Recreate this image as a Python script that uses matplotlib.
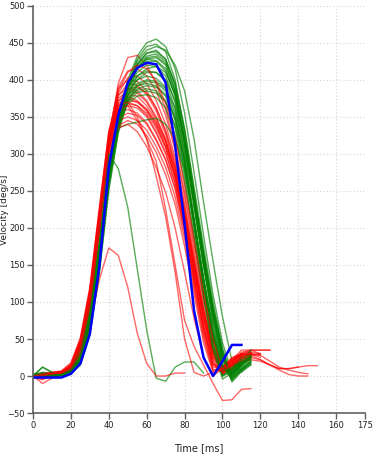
import numpy as np
import matplotlib
matplotlib.use("Agg")
import matplotlib.pyplot as plt

plt.rcParams['font.family'] = ['Liberation Sans Narrow', 'DejaVu Sans']

# muestreo cada 5 ms
step_ms = 5

# perfiles de velocidad, grupo verde
g01 = [0, 3, 2, 3, 7, 25, 72, 160, 272, 350, 400, 432, 450, 455, 445, 415, 355, 275, 190, 110, 45, 5, 15, 24]
g02 = [0, 1, 0, 2, 5, 22, 66, 152, 265, 343, 395, 428, 445, 448, 438, 400, 330, 245, 165, 90, 30, -2, 10, 18]
g03 = [-2, 0, 1, 1, 4, 18, 60, 145, 258, 338, 390, 420, 436, 440, 428, 390, 320, 240, 160, 85, 25, -5, 8, 20]
g04 = [0, 2, 1, 2, 6, 24, 70, 158, 268, 344, 393, 425, 440, 445, 440, 420, 385, 320, 235, 155, 80, 20, 5, 15]
g05 = [1, 4, 3, 4, 9, 30, 80, 172, 282, 352, 395, 420, 432, 435, 425, 395, 335, 255, 175, 100, 35, 0, 12, 25]
g06 = [0, -2, 1, 2, 5, 22, 68, 160, 272, 345, 390, 415, 428, 430, 420, 385, 315, 230, 150, 75, 18, 3, 15, 28]
g07 = [0, 12, 5, 3, 10, 35, 88, 180, 290, 358, 395, 415, 425, 425, 412, 378, 310, 230, 150, 80, 22, 2, 14]
g08 = [1, 2, 2, 3, 7, 28, 76, 168, 278, 345, 388, 410, 420, 418, 405, 370, 300, 215, 135, 65, 15, 5, 18, 30]
g09 = [-1, 0, -1, 1, 3, 15, 55, 138, 250, 330, 380, 405, 415, 418, 410, 380, 320, 245, 165, 95, 38, -3, 10, 22]
g10 = [0, 3, 2, 3, 8, 30, 82, 175, 285, 350, 388, 405, 412, 410, 398, 362, 295, 210, 130, 58, 8, 8, 20]
g11 = [0, 1, 0, 1, 4, 20, 65, 155, 266, 340, 380, 400, 410, 410, 400, 372, 315, 240, 160, 88, 30, 0, 16, 30]
g12 = [2, 5, 4, 5, 10, 34, 88, 180, 288, 352, 385, 400, 405, 402, 390, 355, 290, 205, 125, 52, 5, 10, 22, 32]
g13 = [0, 2, 1, 2, 6, 25, 72, 163, 272, 340, 378, 395, 400, 398, 388, 362, 305, 230, 150, 80, 25, -8, 6, 18]
g14 = [0, 0, -1, 0, 3, 16, 58, 142, 255, 328, 372, 392, 398, 396, 385, 350, 288, 205, 120, 48, 2, 8, 20]
g15 = [1, 3, 2, 3, 8, 28, 78, 170, 278, 342, 378, 392, 395, 392, 380, 345, 280, 200, 118, 45, 0, 6, 18, 26]
g16 = [-3, -1, 0, 1, 4, 20, 65, 155, 265, 335, 372, 388, 392, 390, 378, 348, 290, 210, 130, 60, 12, 12, 26]
g17 = [0, 2, 2, 3, 9, 32, 85, 178, 285, 345, 375, 386, 388, 385, 372, 335, 270, 190, 110, 40, 0, 8, 20, 35]
g18 = [0, 1, 0, 2, 5, 22, 68, 160, 270, 335, 370, 383, 385, 382, 370, 338, 282, 205, 125, 55, 8, 10, 24]
g19 = [1, 2, 1, 2, 7, 26, 75, 166, 274, 338, 368, 378, 380, 376, 362, 325, 262, 185, 105, 35, -4, 4, 16, 28]
g20 = [0, 2, 1, 3, 7, 27, 76, 170, 278, 335, 340, 343, 346, 348, 340, 320, 278, 210, 130, 60, 10, 4, 16, 24]
g21 = [0, 12, 5, 3, 10, 40, 100, 205, 300, 280, 228, 145, 62, -3, -7, 12, 19, 19, 4]
g22 = [0, 2, 2, 2, 6, 24, 70, 162, 272, 346, 394, 422, 436, 438, 428, 395, 330, 250, 168, 92, 32, -4, 9, 21]
g23 = [1, 3, 1, 2, 5, 21, 64, 150, 262, 338, 385, 415, 430, 432, 422, 385, 320, 240, 160, 85, 28, 0, 14, 26]
g24 = [0, 0, 1, 2, 7, 27, 74, 165, 276, 348, 392, 418, 428, 426, 415, 380, 315, 235, 150, 72, 15, -6, 8, 16]

# perfiles de velocidad, grupo rojo
r01 = [0, -3, 2, 4, 12, 42, 105, 210, 320, 395, 430, 433, 420, 395, 360, 310, 248, 178, 108, 48, 10, 15, 25, 30, 28]
r02 = [0, 2, 3, 5, 14, 45, 110, 215, 322, 390, 412, 415, 405, 385, 352, 305, 242, 170, 100, 40, 5, 12, 22, 28, 30]
r03 = [-2, -5, 0, 3, 10, 38, 98, 202, 312, 382, 403, 405, 395, 372, 340, 295, 232, 162, 92, 35, 2, 10, 20, 26]
r04 = [0, 1, 4, 6, 15, 48, 115, 222, 328, 388, 400, 398, 385, 362, 330, 285, 222, 150, 82, 28, 6, 16, 30, 35, 35, 35]
r05 = [0, -2, 2, 4, 11, 40, 100, 205, 315, 378, 395, 393, 380, 358, 326, 282, 220, 150, 85, 30, 8, 18, 28, 32]
r06 = [0, -10, -3, 2, 8, 32, 90, 192, 302, 370, 388, 390, 382, 362, 332, 290, 228, 158, 90, 35, 5, 8, 18, 22, 20, 15, 10, 10, 12, 14, 14]
r07 = [1, 2, 4, 6, 16, 50, 118, 225, 330, 380, 388, 385, 372, 350, 318, 272, 208, 138, 70, 18, 6, 18, 32, 35, 30]
r08 = [0, 0, 3, 5, 12, 42, 105, 210, 318, 375, 385, 382, 370, 348, 320, 280, 220, 152, 85, 32, 4, 12, 25, 30, 28, 20, 12, 8, 5, 3]
r09 = [0, -4, 0, 3, 10, 36, 96, 198, 306, 365, 380, 378, 365, 345, 316, 275, 215, 145, 78, 25, 5, 15, 28, 34]
r10 = [2, 4, 5, 7, 18, 52, 120, 228, 330, 372, 378, 372, 360, 340, 310, 268, 205, 135, 65, 15, 10, 22, 35, 35, 35, 35]
r11 = [0, 1, 3, 5, 13, 44, 108, 212, 318, 368, 375, 370, 358, 338, 310, 270, 212, 145, 78, 25, 12, 25, 30]
r12 = [0, -2, 1, 3, 9, 34, 92, 195, 302, 360, 372, 370, 360, 342, 316, 278, 222, 155, 88, 35, 5, 10, 20, 25, 22, 15, 8, 2, 0, 0]
r13 = [0, 2, 4, 5, 14, 46, 112, 218, 322, 365, 370, 365, 352, 330, 302, 262, 202, 132, 65, 15, 8, 20, 30, 32]
r14 = [0, 0, 2, 4, 11, 40, 102, 205, 312, 360, 368, 365, 355, 335, 308, 268, 210, 142, 75, 22, 3, 14, 26, 30]
r15 = [-1, 1, 3, 5, 12, 42, 105, 210, 315, 358, 365, 362, 350, 328, 300, 260, 198, 128, 60, 12, 10, 22, 30, 28, 22, 15, 10, 10, 12]
r16 = [0, 3, 5, 6, 15, 48, 115, 220, 322, 355, 360, 355, 342, 320, 292, 252, 192, 122, 55, 8, 12, 24, 30]
r17 = [0, -3, 1, 3, 10, 36, 96, 198, 305, 348, 355, 352, 340, 318, 292, 255, 198, 130, 65, 18, 4, 16, 24, 26]
r18 = [0, 1, 3, 4, 12, 42, 105, 208, 310, 345, 350, 345, 332, 310, 282, 242, 185, 118, 52, 8, 8, 20, 28, 30, 25]
r19 = [0, 0, 2, 4, 11, 40, 100, 202, 300, 338, 345, 340, 325, 302, 272, 232, 175, 110, 45, 5, 10, 22, 30]
r20 = [0, 2, 3, 5, 13, 45, 110, 215, 310, 335, 340, 330, 310, 282, 248, 200, 140, 78, 25, 0, 10, 20, 28]
r21 = [0, -3, 2, 3, 8, 30, 70, 130, 173, 163, 120, 58, 17, 0, 0, 4, 4]
r22 = [0, 1, 3, 5, 12, 42, 105, 210, 315, 360, 365, 345, 320, 290, 225, 150, 75, 40, 15, -10, -33, -32, -18, -17]
r23 = [0, 2, 4, 6, 14, 46, 112, 218, 320, 365, 370, 350, 320, 270, 215, 140, 50, 5, 0, 5, 10, 15, 22]
r24 = [0, 1, 3, 4, 12, 40, 100, 205, 315, 385, 410, 420, 415, 398, 368, 322, 258, 185, 112, 50, 8, 14, 26, 32, 30]

# promedio (azul)
blue = [-2, -2, -2, -2, 3, 17, 57, 148, 282, 352, 396, 416, 423, 421, 396, 312, 205, 88, 25, 0, 20, 42, 42]

green = [g01, g02, g03, g04, g05, g06, g07, g08, g09, g10, g11, g12,
         g13, g14, g15, g16, g17, g18, g19, g20, g21, g22, g23, g24]
red = [r01, r02, r03, r04, r05, r06, r07, r08, r09, r10, r11, r12,
       r13, r14, r15, r16, r17, r18, r19, r20, r21, r22, r23, r24]

xticks = [0, 20, 40, 60, 80, 100, 120, 140, 160, 175]
yticks = [-50, 0, 50, 100, 150, 200, 250, 300, 350, 400, 450, 500]

fig = plt.figure(figsize=(3.73, 4.61), dpi=100)
ax = fig.add_axes([0.0885, 0.104, 0.889, 0.8835])

# verde y rojo intercalados
for g, r in zip(green, red):
    t = np.arange(len(g)) * step_ms
    ax.plot(t, g, color='#008000', lw=1.0, alpha=0.65)
    t = np.arange(len(r)) * step_ms
    ax.plot(t, r, color='#ff0000', lw=1.0, alpha=0.6)

t = np.arange(len(blue)) * step_ms
ax.plot(t, blue, color='#0000ff', lw=1.8)

ax.set_xlim(0, 175)
ax.set_ylim(-50, 500)
ax.set_xticks(xticks)
ax.set_yticks(yticks)
ax.grid(True, color='#d4d4d4', lw=0.8, linestyle=(0, (1, 2)))
ax.set_axisbelow(True)

for s in ['top', 'right']:
    ax.spines[s].set_visible(False)
for s in ['left', 'bottom']:
    ax.spines[s].set_color('#606060')
    ax.spines[s].set_linewidth(1.2)

ax.tick_params(length=4, width=1, color='#606060', labelsize=6, pad=2,
               labelcolor='#222222')
ax.set_xlabel('Time [ms]', fontsize=7, labelpad=9, color='#222222')
ax.set_ylabel('Velocity [deg/s]', fontsize=6.5, color='#222222')
ax.yaxis.set_label_coords(-0.072, 0.5)

fig.savefig('out.png', dpi=100)
